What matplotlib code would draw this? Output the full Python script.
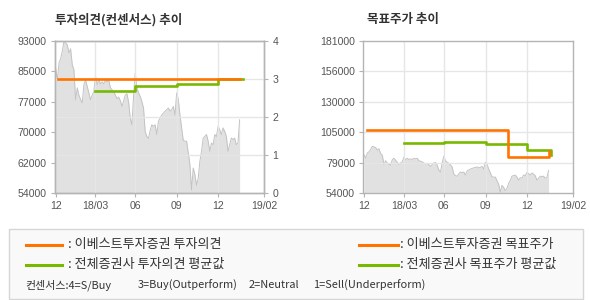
import numpy as np
import matplotlib
matplotlib.use("Agg")
import matplotlib.pyplot as plt
from matplotlib.lines import Line2D
from matplotlib.patches import Rectangle

plt.rcParams['font.family'] = ['Noto Sans CJK KR', 'DejaVu Sans']

# x axis is a trading-day index; month labels sit on these positions
x_ticks = [1, 58, 115, 175, 234, 300]
x_labels = ["12", "18/03", "06", "09", "12", "19/02"]

# closing price (won), roughly every 2-3 trading days
price = [86000, 83000, 87400, 88500, 90400, 93000, 92500, 92000, 89900, 91000,
         86900, 85600, 77900, 81000, 79100, 78000, 77100, 81800, 83000, 81400,
         79700, 77900, 79100, 80000, 84000, 81800, 83000, 82000, 82500, 82000,
         83000, 82500, 83000, 81000, 80500, 80000, 79100, 78200, 78600, 77700,
         76200, 77700, 79100, 79500, 77300, 73200, 71500, 79000, 84800, 81000,
         79700, 78800, 77500, 75800, 69800, 68500,
         68000, 70000, 71500, 71100, 71500, 69000, 72400, 73200, 74000, 74500,
         75000, 75400, 75800, 75000, 75400, 76200, 74000, 79700, 78000, 74000,
         70700, 67500, 67300, 67300, 64300, 61300, 54800, 60400, 58700, 56000,
         57800, 62100, 64700, 68100, 68500, 69000, 67300, 64700, 66800, 66400,
         69000, 68500, 71100, 70200, 69000, 70700, 69800, 68500, 64700, 66400,
         68100, 67700, 68100, 66400, 66800, 72800]
price_start, price_end = 1, 265

# opinion (4=S/Buy ... 1=Sell)
op_x = [5, 265]
op_y = [3, 3]
avg_op_x = [58, 115, 175, 234, 270]
avg_op_y = [2.68, 2.81, 2.88, 3.0, 3.0]

# target price
tp_x = [5, 207, 265, 265]
tp_y = [106600, 83800, 83800, 89300]
avg_tp_x = [58, 115, 175, 234, 268.5, 268.5]
avg_tp_y = [96000, 96800, 95300, 90000, 90000, 85700]

left_ylim = (54000, 93000)
left_labels = ["54000", "62000", "70000", "77000", "85000", "93000"]
right_ylim = (54000, 181000)
right_labels = ["54000", "79000", "105000", "130000", "156000", "181000"]

ORANGE = "#ff7400"
GREEN = "#78b900"
GRID = "#e6e6e6"
SPINE = "#b4b4b4"
TXT = "#555555"

px = np.linspace(price_start, price_end, len(price))

fig = plt.figure(figsize=(5.9, 3.0), dpi=100)


def style(ax):
    for s in ax.spines.values():
        s.set_color(SPINE)
        s.set_linewidth(1.0)
    ax.tick_params(length=3, color=SPINE, labelcolor=TXT, labelsize=7.6, pad=3)
    for lab in ax.get_xticklabels() + ax.get_yticklabels():
        lab.set_family("Liberation Sans")


def price_area(ax, lo):
    ax.fill_between(px, lo, price, color="#e1e1e1", lw=0, zorder=1)
    ax.plot(px, price, color="#c3c3c3", lw=0.7, zorder=1.2)


# ---- left: opinion chart
ax1 = fig.add_axes([55 / 590, 107 / 300, 209 / 590, 152 / 300])
price_area(ax1, left_ylim[0])
ax1.set_xlim(0, 300)
ax1.set_ylim(*left_ylim)
ax1.set_yticks(np.linspace(*left_ylim, 6))
ax1.set_yticklabels(left_labels)
ax1.set_xticks(x_ticks)
ax1.set_xticklabels(x_labels)
style(ax1)

ax1r = ax1.twinx()
ax1r.set_ylim(0, 4)
ax1r.set_yticks([0, 1, 2, 3, 4])
for v in [1, 2, 3]:
    ax1r.axhline(v, color=GRID, lw=1, zorder=1.5)
for v in x_ticks[1:-1]:
    ax1r.axvline(v, color=GRID, lw=1, zorder=1.5)
ax1r.step(avg_op_x, avg_op_y, where="post", color=GREEN, lw=1.9, zorder=3)
ax1r.plot(op_x, op_y, color=ORANGE, lw=1.9, zorder=4)
style(ax1r)

# ---- right: target price chart
ax2 = fig.add_axes([363.3 / 590, 107 / 300, 209.7 / 590, 152 / 300])
price_area(ax2, right_ylim[0])
ax2.set_xlim(0, 300)
ax2.set_ylim(*right_ylim)
yt = np.linspace(*right_ylim, 6)
ax2.set_yticks(yt)
ax2.set_yticklabels(right_labels)
for v in yt[1:-1]:
    ax2.axhline(v, color=GRID, lw=1, zorder=1.5)
for v in x_ticks[1:-1]:
    ax2.axvline(v, color=GRID, lw=1, zorder=1.5)
ax2.step(avg_tp_x, avg_tp_y, where="post", color=GREEN, lw=1.9, zorder=3)
ax2.step(tp_x, tp_y, where="post", color=ORANGE, lw=1.9, zorder=4)
ax2.set_xticks(x_ticks)
ax2.set_xticklabels(x_labels)
style(ax2)

# titles
fig.text(55 / 590, 1 - 20 / 300, "투자의견(컨센서스) 추이", fontsize=9, fontweight="bold",
         color="#333333", va="center")
fig.text(367 / 590, 1 - 20 / 300, "목표주가 추이", fontsize=9, fontweight="bold",
         color="#333333", va="center")

# legend box
fig.add_artist(Rectangle((8.5 / 590, 1.5 / 300), 574 / 590, 70 / 300,
                         transform=fig.transFigure, facecolor="#f9f9f9",
                         edgecolor="#d6d6d6", lw=1))
legend_rows = [
    (25.7, 61.6, 67.5, 1 - 244.6 / 300, ORANGE, "이베스트투자증권 투자의견"),
    (25.7, 61.6, 67.5, 1 - 264.6 / 300, GREEN, "전체증권사 투자의견 평균값"),
    (358.5, 398, 400.5, 1 - 244.6 / 300, ORANGE, "이베스트투자증권 목표주가"),
    (358.5, 398, 400.5, 1 - 264.6 / 300, GREEN, "전체증권사 목표주가 평균값"),
]
for x0, x1, tx, y, c, label in legend_rows:
    fig.add_artist(Line2D([x0 / 590, x1 / 590], [y, y], color=c, lw=2.2,
                          transform=fig.transFigure))
    fig.text(tx / 590, y, ": " + label, fontsize=9.4, color="#333333", va="center")

# consensus key, placed piece by piece like the original
key_x = [25.7, 138, 249, 313]
key_text = ["컨센서스:4=S/Buy", "3=Buy(Outperform)", "2=Neutral", "1=Sell(Underperform)"]
for kx, kt in zip(key_x, key_text):
    fig.text(kx / 590, 1 - 285 / 300, kt, fontsize=7.9, color="#333333", va="center")

fig.savefig("out.png", dpi=100)
